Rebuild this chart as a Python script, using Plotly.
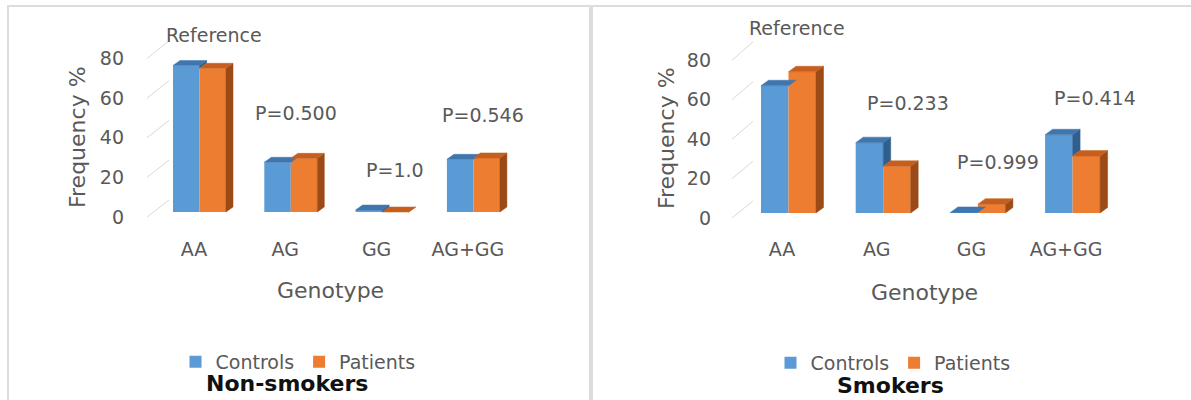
import plotly.graph_objects as go

# ---- data -------------------------------------------------------------
genotypes = ["AA", "AG", "GG", "AG+GG"]
y_ticks = [0, 20, 40, 60, 80]

nonsmoker_controls = [74.0, 25.1, 1.0, 26.6]
nonsmoker_patients = [72.6, 27.1, 0.0, 27.3]
smoker_controls = [64.6, 35.7, 0.3, 39.7]
smoker_patients = [71.7, 23.7, 4.5, 28.9]

nonsmoker_notes = ["Reference", "P=0.500", "P=1.0", "P=0.546"]
smoker_notes = ["Reference", "P=0.233", "P=0.999", "P=0.414"]

# ---- styling ----------------------------------------------------------
W, H = 1191, 400
FONT = "DejaVu Sans"
GREY_TEXT = "#595959"
GRID = "#D9D9D9"
BLUE, BLUE_TOP, BLUE_SIDE = "#5B9BD5", "#3F76AE", "#2F5F8E"
ORANGE, ORANGE_TOP, ORANGE_SIDE = "#ED7D31", "#C65F1E", "#9C4A16"
LABEL_SIZE = 19
TITLE_SIZE = 22


def fx(px):
    return px / W


def fy(py):
    return 1 - py / H


# pixel geometry of each panel (the chart is drawn with a faux-3D look)
panels = [
    dict(
        controls=nonsmoker_controls, patients=nonsmoker_patients, notes=nonsmoker_notes,
        note_x=[0.22, 1.12, 2.20, 3.165], note_y=[89.5, 50.0, 21.2, 49.0],
        wall=(169, 540), top=12, bottom=217, grid_zero=200, grid_scale=1.99,
        bar_zero=212, bar_scale=1.98, tick_zero=217, front_dx=22, tick_gap=44,
        cat0=194, step=91.3, bar_off=-21, bar_w=26.5, dx=7, dy=5,
        ytitle=(77, 137), xtitle=(330, 290), legend=(298, 362),
        title="Non-smokers", title_pos=(287, 383),
        ax=("x", "y", "x2", "y2"),
    ),
    dict(
        controls=smoker_controls, patients=smoker_patients, notes=smoker_notes,
        note_x=[0.158, 1.33, 2.28, 3.305], note_y=[94.0, 55.6, 25.8, 58.6],
        wall=(753, 1138), top=12, bottom=217, grid_zero=201, grid_scale=1.99,
        bar_zero=213, bar_scale=1.97, tick_zero=218, front_dx=21, tick_gap=41,
        cat0=782, step=94.7, bar_off=-21, bar_w=27.5, dx=7.5, dy=5.5,
        ytitle=(666, 138), xtitle=(924, 292), legend=(893, 363),
        title="Smokers", title_pos=(890, 385),
        ax=("x3", "y3", "x4", "y4"),
    ),
]

fig = go.Figure()
layout = dict(
    width=W, height=H, margin=dict(l=0, r=0, t=0, b=0, autoexpand=False),
    paper_bgcolor="white", plot_bgcolor="rgba(0,0,0,0)",
    font=dict(family=FONT, color=GREY_TEXT, size=LABEL_SIZE),
    barmode="overlay", showlegend=True, hovermode=False,
    shapes=[], annotations=[],
)


def axis_key(ref):
    kind, num = ref[0], ref[1:]
    return ("xaxis" if kind == "x" else "yaxis") + num


for k, p in enumerate(panels):
    gx, gy, bx, by = p["ax"]
    xdom = [fx(p["wall"][0]), fx(p["wall"][1])]
    ydom = [fy(p["bottom"]), fy(p["top"])]
    step, bs = p["step"], p["bar_scale"]
    w = p["bar_w"] / step
    off = p["bar_off"] / step
    dxu = p["dx"] / step
    dyu = p["dy"] / bs
    legend_name = "legend" if k == 0 else "legend2"

    # back-wall axes: only carry the horizontal gridlines
    layout[axis_key(gx)] = dict(domain=xdom, range=[0, 1], anchor=gy, showgrid=False,
                                zeroline=False, showticklabels=False, ticks="",
                                automargin=False, fixedrange=True)
    layout[axis_key(gy)] = dict(
        domain=ydom, anchor=gx, zeroline=False, showticklabels=False, ticks="",
        range=[-(p["bottom"] - p["grid_zero"]) / p["grid_scale"],
               (p["grid_zero"] - p["top"]) / p["grid_scale"]],
        tickvals=y_ticks, showgrid=True, gridcolor=GRID, gridwidth=1,
        automargin=False, fixedrange=True,
    )
    # front axes (same box): bars, category labels and value labels
    layout[axis_key(bx)] = dict(
        domain=xdom, anchor=by, side="bottom",
        range=[(p["wall"][0] - p["cat0"]) / step, (p["wall"][1] - p["cat0"]) / step],
        tickvals=list(range(len(genotypes))), ticktext=genotypes,
        showgrid=False, zeroline=False, ticks="", ticklabelstandoff=19,
        tickfont=dict(size=LABEL_SIZE, color=GREY_TEXT), automargin=False, fixedrange=True,
    )
    layout[axis_key(by)] = dict(
        domain=ydom, anchor=bx, side="left",
        range=[-(p["bottom"] - p["bar_zero"]) / bs, (p["bar_zero"] - p["top"]) / bs],
        tickvals=y_ticks, showgrid=False, zeroline=False, ticks="",
        ticklabelstandoff=p["tick_gap"], ticklabelshift=p["tick_zero"] - p["bar_zero"],
        tickfont=dict(size=LABEL_SIZE, color=GREY_TEXT), automargin=False, fixedrange=True,
    )

    xs = list(range(len(genotypes)))
    ctrl, pat = p["controls"], p["patients"]
    fig.add_trace(go.Bar(x=xs, y=ctrl, width=w, offset=off, name="Controls",
                         marker=dict(color=BLUE, line=dict(width=0)),
                         xaxis=bx, yaxis=by, legend=legend_name))
    fig.add_trace(go.Bar(x=xs, y=pat, width=w, offset=off + w, name="Patients",
                         marker=dict(color=ORANGE, line=dict(width=0)),
                         xaxis=bx, yaxis=by, legend=legend_name))

    # depth faces of the bars, built from the same values
    def faces(kind):
        px_, py_ = [], []
        for i in xs:
            xl_c = i + off
            xl_p = i + off + w
            xr_p = xl_p + w
            c, v = ctrl[i], pat[i]
            if kind == "ctrl_top":
                poly = [(xl_c, c), (xl_p, c), (xl_p + dxu, c + dyu), (xl_c + dxu, c + dyu)]
            elif kind == "ctrl_side":
                if c <= v:
                    continue
                poly = [(xl_p, v), (xl_p, c), (xl_p + dxu, c + dyu), (xl_p + dxu, v + dyu)]
            elif kind == "pat_top":
                poly = [(xl_p, v), (xr_p, v), (xr_p + dxu, v + dyu), (xl_p + dxu, v + dyu)]
            else:
                poly = [(xr_p, 0), (xr_p, v), (xr_p + dxu, v + dyu), (xr_p + dxu, dyu)]
            for a, b in poly + [poly[0]]:
                px_.append(a)
                py_.append(b)
            px_.append(None)
            py_.append(None)
        return px_, py_

    for kind, col in [("ctrl_side", BLUE_SIDE), ("ctrl_top", BLUE_TOP),
                      ("pat_side", ORANGE_SIDE), ("pat_top", ORANGE_TOP)]:
        X, Y = faces(kind)
        fig.add_trace(go.Scatter(x=X, y=Y, mode="lines", fill="toself", fillcolor=col,
                                 line=dict(width=0.5, color=col), showlegend=False,
                                 hoverinfo="skip", xaxis=bx, yaxis=by))

    # receding floor/grid edges at the left of the wall
    for v in y_ticks:
        layout["shapes"].append(dict(
            type="line", xref="paper", yref="paper",
            x0=fx(p["wall"][0] - p["front_dx"]), y0=fy(p["tick_zero"] - v * bs),
            x1=fx(p["wall"][0]), y1=fy(p["grid_zero"] - v * p["grid_scale"]),
            line=dict(color=GRID, width=1),
        ))

    # P-value notes above each genotype group
    for txt, nx, ny in zip(p["notes"], p["note_x"], p["note_y"]):
        layout["annotations"].append(dict(
            text=txt, x=nx, y=ny, xref=bx, yref=by, showarrow=False,
            font=dict(size=LABEL_SIZE, color=GREY_TEXT), xanchor="center", yanchor="middle",
        ))

    layout["annotations"].append(dict(
        text="Frequency %", x=fx(p["ytitle"][0]), y=fy(p["ytitle"][1]), xref="paper",
        yref="paper", showarrow=False, textangle=-90,
        font=dict(size=TITLE_SIZE, color=GREY_TEXT), xanchor="center", yanchor="middle"))
    layout["annotations"].append(dict(
        text="Genotype", x=fx(p["xtitle"][0]), y=fy(p["xtitle"][1]), xref="paper",
        yref="paper", showarrow=False, font=dict(size=TITLE_SIZE, color=GREY_TEXT),
        xanchor="center", yanchor="middle"))
    layout["annotations"].append(dict(
        text="<b>" + p["title"] + "</b>", x=fx(p["title_pos"][0]), y=fy(p["title_pos"][1]),
        xref="paper", yref="paper", showarrow=False, font=dict(size=22, color="#111111"),
        xanchor="center", yanchor="middle"))

    layout[legend_name] = dict(
        orientation="h", x=fx(p["legend"][0]), y=fy(p["legend"][1]),
        xanchor="center", yanchor="middle", bgcolor="rgba(0,0,0,0)",
        font=dict(size=LABEL_SIZE, color=GREY_TEXT), itemwidth=30, traceorder="normal",
    )

# chart-area frames
for x0, x1 in [(8, 590), (592, 1196)]:
    layout["shapes"].append(dict(
        type="rect", xref="paper", yref="paper", x0=fx(x0), x1=fx(x1), y0=fy(404), y1=fy(6),
        line=dict(color="#DCDCDC", width=2), layer="below"))

fig.update_layout(**layout)
fig.write_html("out.html")
